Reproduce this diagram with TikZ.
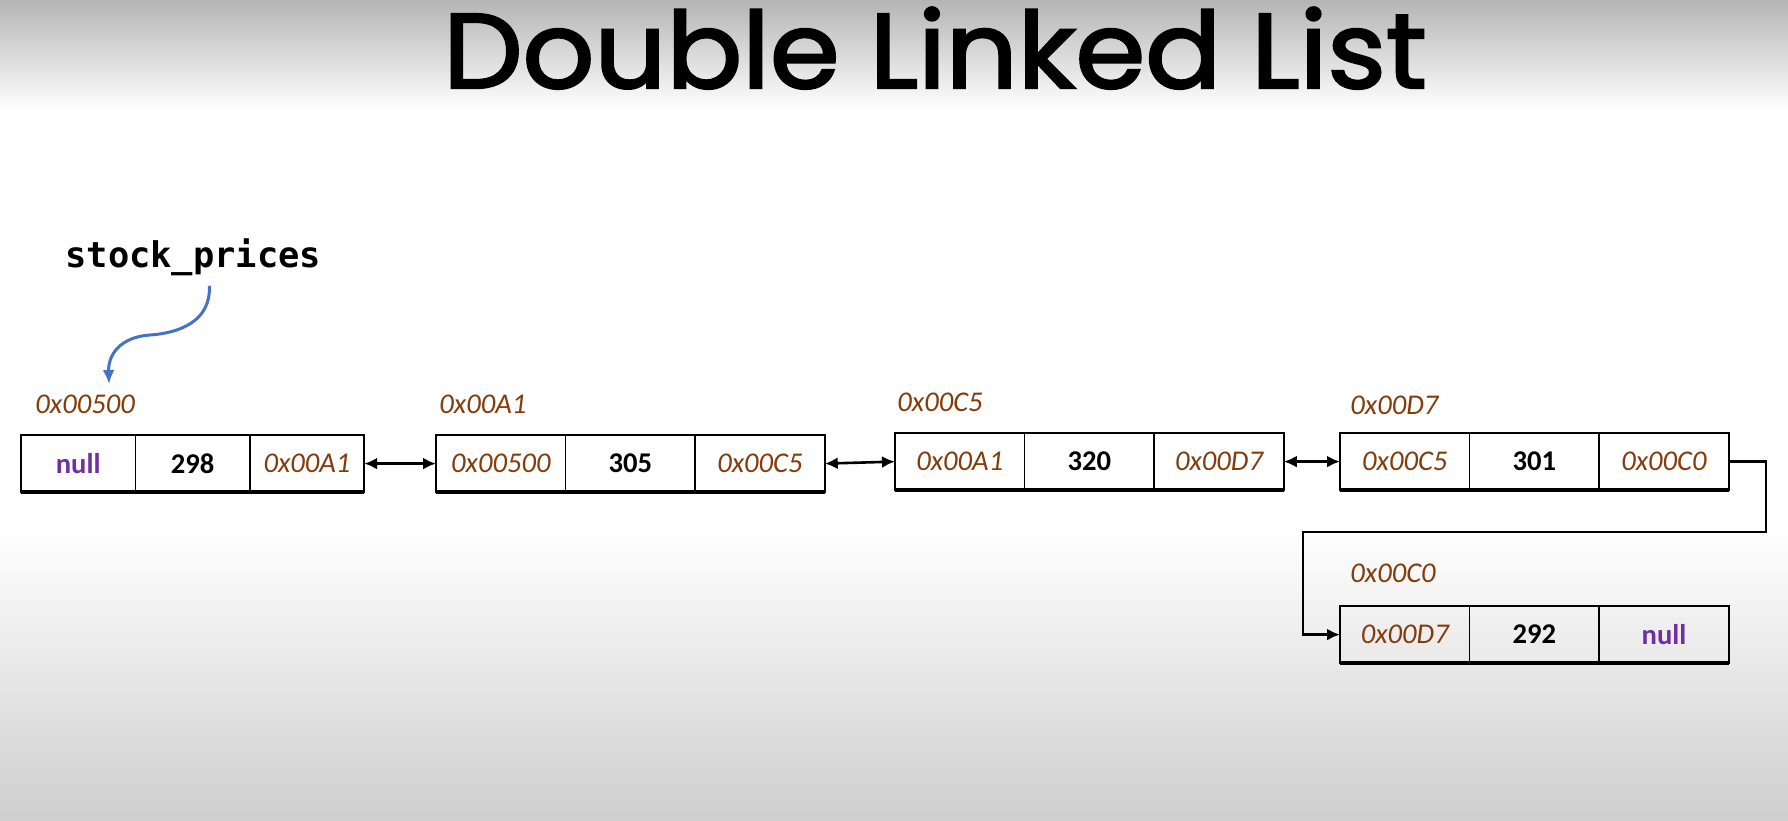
\documentclass[tikz,border=0pt]{standalone}
\usepackage{xcolor}
\usepackage{graphicx}
\usepackage{fontspec}
\setmainfont{Carlito}
\newfontfamily\titlefont{Poppins}[FakeBold=2.2]
\newfontfamily\codefont{DejaVu Sans Mono}
\usepackage{tikz}
\usetikzlibrary{arrows.meta,positioning}

\definecolor{addrbrown}{HTML}{843C0C}
\definecolor{nullpurple}{HTML}{7030A0}
\definecolor{ptrblue}{HTML}{4472C4}

\begin{document}
\begin{tikzpicture}[x=0.5pt,y=-0.5pt,>={Latex[length=6.5pt,width=6pt]},
  cell/.style={draw,line width=0.85pt,outer sep=0pt,inner sep=0pt,
    minimum width=64.8pt,minimum height=28.6pt,font=\fontsize{14}{16}\selectfont},
  smallcell/.style={cell,minimum width=57.2pt},
  addr/.style={text=addrbrown,font=\fontsize{14.3}{16}\selectfont\itshape},
  val/.style={font=\fontsize{14.3}{16}\selectfont\bfseries},
  nul/.style={text=nullpurple,font=\fontsize{14.3}{16}\selectfont\bfseries},
  link/.style={line width=1.3pt},
  ptr/.style={->,>={Latex[length=7pt,width=6pt]},draw=ptrblue,line width=1.5pt}]
  % background
  \useasboundingbox (0,0) rectangle (1788,820);
  \fill[white] (0,0) rectangle (1788,820);
  \shade[top color=black!29,bottom color=white] (0,0) rectangle (1788,110);
  \shade[top color=white,bottom color=black!19] (0,530) rectangle (1788,820);

  % title and head pointer
  \node[anchor=base,font=\fontsize{53}{60}\titlefont] (title) at (935,88) {\scalebox{1.06}[1]{Double Linked List}};
  \node[anchor=base west,inner sep=0pt,font=\fontsize{17.7}{20}\codefont\bfseries] (head) at (65,267) {stock\_prices};

  % node 0x00500
  \node[addr,anchor=base west,inner sep=0pt] (l1) at (35,413) {0x00500};
  \node[smallcell,nul,anchor=north west] (a1) at (21,435) {null};
  \node[smallcell,val,right=0pt of a1] (a2) {298};
  \node[smallcell,addr,right=0pt of a2] (a3) {0x00A1};

  % node 0x00A1
  \node[addr,anchor=base west,inner sep=0pt] (l2) at (439,413) {0x00A1};
  \node[cell,addr,anchor=north west] (b1) at (436,435) {0x00500};
  \node[cell,val,right=0pt of b1] (b2) {305};
  \node[cell,addr,right=0pt of b2] (b3) {0x00C5};

  % node 0x00C5
  \node[addr,anchor=base west,inner sep=0pt] (l3) at (897,411) {0x00C5};
  \node[cell,addr,anchor=north west] (c1) at (895,433) {0x00A1};
  \node[cell,val,right=0pt of c1] (c2) {320};
  \node[cell,addr,right=0pt of c2] (c3) {0x00D7};

  % node 0x00D7
  \node[addr,anchor=base west,inner sep=0pt] (l4) at (1350,414) {0x00D7};
  \node[cell,addr,anchor=north west] (d1) at (1340,433) {0x00C5};
  \node[cell,val,right=0pt of d1] (d2) {301};
  \node[cell,addr,right=0pt of d2] (d3) {0x00C0};

  % node 0x00C0
  \node[addr,anchor=base west,inner sep=0pt] (l5) at (1350,582) {0x00C0};
  \node[cell,addr,anchor=north west] (e1) at (1340,606) {0x00D7};
  \node[cell,val,right=0pt of e1] (e2) {292};
  \node[cell,nul,right=0pt of e2] (e3) {null};

  % heavier bottom edges
  \foreach \s/\e in {a1/a3,b1/b3,c1/c3,d1/d3,e1/e3}
    \draw[line width=2pt] (\s.south west) -- (\e.south east);

  % links
  \draw[link,<->] (a3.east) -- (b1.west);
  \draw[link,<->] (b3.east) -- (c1.west);
  \draw[link,<->] (c3.east) -- (d1.west);
  \coordinate (turn) at (1303,532);
  \draw[link,->] (d3.east) -- ++(37,0) |- (turn) |- (e1.west);

  \draw[ptr] ([xshift=8pt,yshift=-5pt]head.south) .. controls ++(2,35) and (180,333) .. (150,335)
    .. controls (120,337) and (108,355) .. ([xshift=12pt,yshift=5pt]l1.north);
\end{tikzpicture}
\end{document}
